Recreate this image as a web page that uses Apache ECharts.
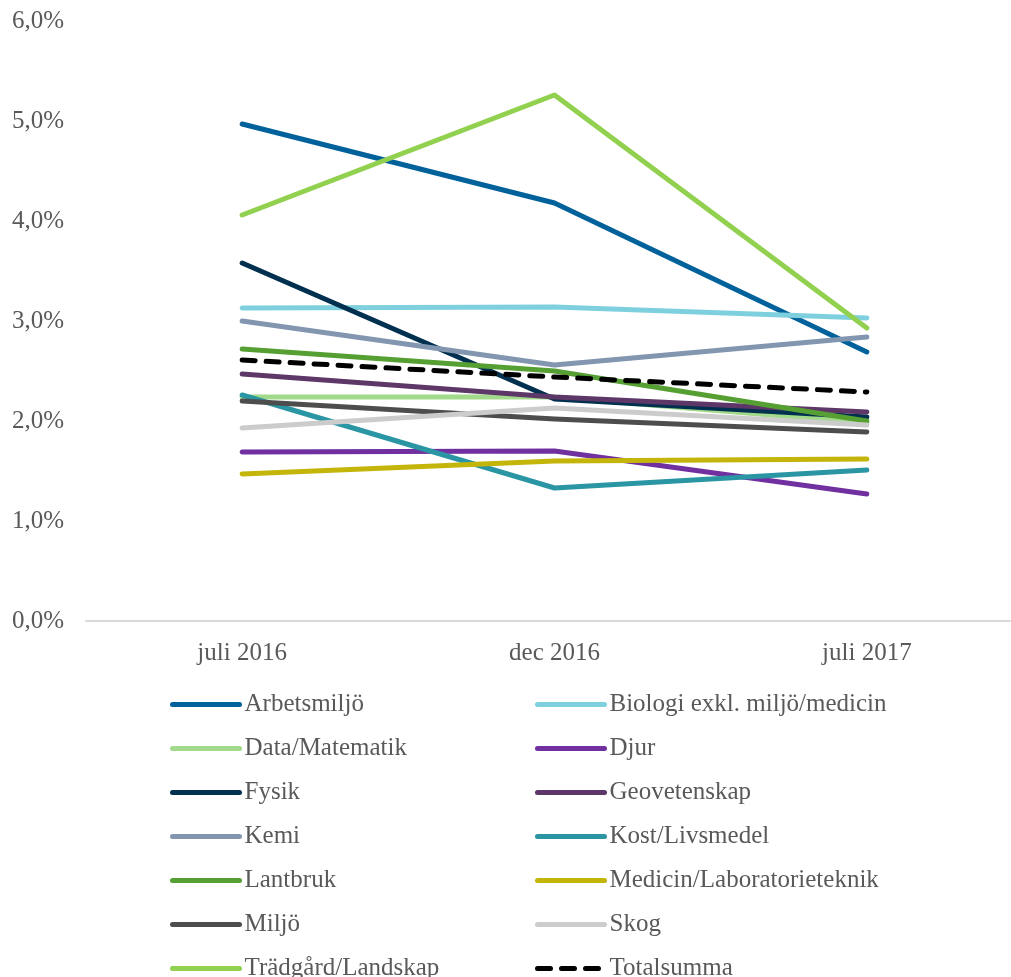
<!DOCTYPE html>
<html>
<head>
<meta charset="utf-8">
<script src="https://cdn.jsdelivr.net/npm/echarts@6/dist/echarts.min.js"></script>
<style>
html,body{margin:0;padding:0;background:#fff;}
#chart{width:1011px;height:977px;}
</style>
</head>
<body>
<div id="chart"></div>
<script>
const categories = ['juli 2016', 'dec 2016', 'juli 2017'];

const arbetsmiljo = [4.97, 4.18, 2.69];
const biologi = [3.13, 3.14, 3.03];
const dataMatematik = [2.24, 2.24, 1.98];
const djur = [1.69, 1.70, 1.27];
const fysik = [3.58, 2.22, 2.04];
const geovetenskap = [2.47, 2.24, 2.09];
const kemi = [3.00, 2.56, 2.84];
const kostLivsmedel = [2.26, 1.33, 1.51];
const lantbruk = [2.72, 2.50, 2.00];
const medicin = [1.47, 1.60, 1.62];
const miljo = [2.20, 2.02, 1.89];
const skog = [1.93, 2.13, 1.96];
const tradgard = [4.06, 5.26, 2.93];
const totalsumma = [2.61, 2.44, 2.29];

const seriesNames = ['Arbetsmiljö', 'Biologi exkl. miljö/medicin', 'Data/Matematik', 'Djur', 'Fysik',
  'Geovetenskap', 'Kemi', 'Kost/Livsmedel', 'Lantbruk', 'Medicin/Laboratorieteknik', 'Miljö', 'Skog',
  'Trädgård/Landskap', 'Totalsumma'];
const seriesData = [arbetsmiljo, biologi, dataMatematik, djur, fysik, geovetenskap, kemi, kostLivsmedel,
  lantbruk, medicin, miljo, skog, tradgard, totalsumma];
const seriesColors = ['#01619b', '#7fd0de', '#a2d98a', '#7030a0', '#00304f', '#5d3767', '#8396b0', '#2a95a3',
  '#56a033', '#c3b50a', '#4d4d4d', '#cccccc', '#92d050', '#000000'];

const FONT = 'Liberation Serif';
const TXT = '#595959';

const series = seriesNames.map((n, i) => ({
  name: n,
  type: 'line',
  data: seriesData[i],
  symbol: 'none',
  showSymbol: false,
  animation: false,
  lineStyle: {
    color: seriesColors[i],
    width: 5,
    cap: 'round',
    join: 'round',
    type: n === 'Totalsumma' ? [13, 11] : 'solid'
  },
  itemStyle: { color: seriesColors[i] }
}));

const leftNames = seriesNames.filter((_, i) => i % 2 === 0);
const rightNames = seriesNames.filter((_, i) => i % 2 === 1);

const legendBase = {
  orient: 'vertical',
  top: 692,
  height: 320,
  padding: 0,
  itemWidth: 67,
  itemHeight: 14,
  itemGap: 19,
  itemStyle: { opacity: 0 },
  lineStyle: { width: 5, cap: 'round' },
  textStyle: { fontFamily: FONT, fontSize: 25, color: TXT },
  selectedMode: false
};

const option = {
  animation: false,
  backgroundColor: '#ffffff',
  grid: { left: 86, top: 21, width: 937, height: 600, containLabel: false, outerBoundsMode: 'none' },
  xAxis: {
    type: 'category',
    data: categories,
    boundaryGap: true,
    axisLine: { lineStyle: { color: '#d9d9d9', width: 2 } },
    axisTick: { show: false },
    axisLabel: { fontFamily: FONT, fontSize: 25, color: TXT, margin: 20 }
  },
  yAxis: {
    type: 'value',
    min: 0,
    max: 6,
    interval: 1,
    axisLine: { show: false },
    axisTick: { show: false },
    splitLine: { show: false },
    axisLabel: {
      fontFamily: FONT, fontSize: 25, color: TXT, margin: 22,
      formatter: v => v.toFixed(1).replace('.', ',') + '%'
    }
  },
  legend: [
    Object.assign({}, legendBase, { left: 170, data: leftNames }),
    Object.assign({}, legendBase, { left: 535, data: rightNames })
  ],
  series: series
};

const chart = echarts.init(document.getElementById('chart'), null, { renderer: 'canvas' });
chart.setOption(option);
</script>
</body>
</html>
